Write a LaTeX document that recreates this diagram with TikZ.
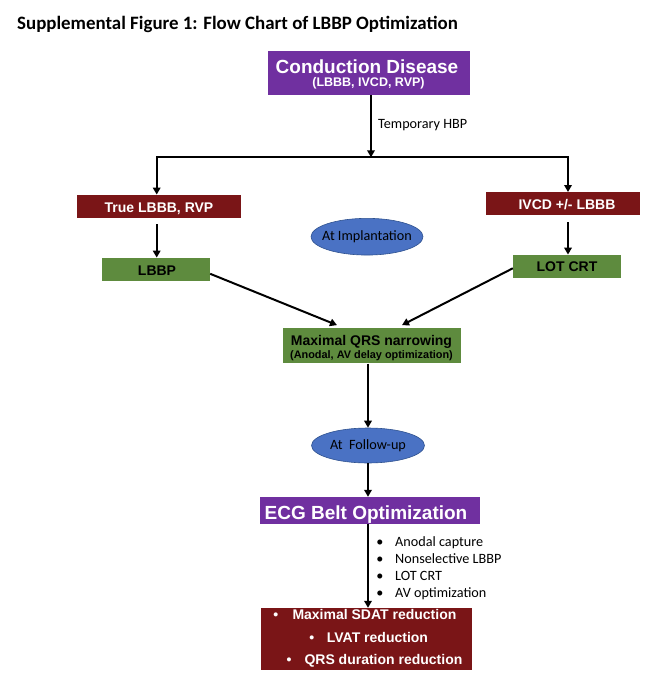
\documentclass[tikz,border=0pt]{standalone}
\usepackage{fontspec}
\setmainfont{Carlito}
\newfontfamily\arial{Liberation Sans}
\usetikzlibrary{shapes.geometric,arrows.meta}
\definecolor{cpurple}{HTML}{7030A0}
\definecolor{cred}{HTML}{7A1517}
\definecolor{cgreen}{HTML}{5E8B3E}
\definecolor{cblue}{HTML}{4A72C4}
\definecolor{cblueb}{HTML}{2F528F}
\begin{document}
\begin{tikzpicture}[x=1pt,y=-1pt,
  box/.style={rectangle, inner sep=0pt, draw=none},
  pbox/.style={box, fill=cpurple},
  rbox/.style={box, fill=cred},
  gbox/.style={box, fill=cgreen},
  oval/.style={ellipse, inner sep=0pt, fill=cblue, draw=cblueb, line width=0.6pt},
  txt/.style={inner sep=0pt, anchor=base},
  wtxt/.style={txt, text=white, font=\arial\bfseries\fontsize{14}{16}\selectfont},
  btxt/.style={txt, text=black, font=\arial\bfseries\fontsize{14}{16}\selectfont},
  ctxt/.style={txt, text=black, font=\fontsize{14.2}{16}\selectfont},
  arr/.style={line width=2pt, -{Triangle[length=7pt,width=7.5pt]}},
]
\useasboundingbox (0,0) rectangle (657,680);
\node[txt, anchor=base west, font=\bfseries\fontsize{18.9}{20}\selectfont] (title) at (17,29.5) {Supplemental Figure 1: Flow Chart of LBBP Optimization};

% top box
\node[pbox, minimum width=202pt, minimum height=44pt] (cd) at (369,73) {};
\node[wtxt, font=\arial\bfseries\fontsize{19}{20}\selectfont] (cdt) at (367,73.8) {Conduction Disease};
\node[wtxt, font=\arial\bfseries\fontsize{12.5}{14}\selectfont] (cds) at (368.5,86.5) {(LBBB, IVCD, RVP)};

\coordinate (sp) at (371,157.3);
\coordinate (hl) at (156.7,157.3);
\coordinate (hr) at (568,157.3);
\draw[arr] (cd.south -| sp) -- (sp);
\node[ctxt, anchor=base west] (thbp) at (378,128.5) {Temporary HBP};

% second row
\node[rbox, minimum width=164pt, minimum height=23pt] (tl) at (159,206.3) {};
\node[wtxt] (tlt) at (159,212.3) {True LBBB, RVP};
\node[rbox, minimum width=154pt, minimum height=23pt] (ir) at (563,203.7) {};
\node[wtxt] (irt) at (567,209.3) {IVCD +/- LBBB};

\draw[arr] (sp) -| (tl.north -| hl);
\draw[arr] (sp) -| (ir.north -| hr);

% third row
\node[gbox, minimum width=108pt, minimum height=23pt] (lb) at (156,269.3) {};
\node[btxt] (lbt) at (157,275) {LBBP};
\node[gbox, minimum width=108pt, minimum height=23pt] (lot) at (567,266.3) {};
\node[btxt] (lott) at (567,271.6) {LOT CRT};

\draw[arr, shorten <=6pt] (tl.south -| hl) -- (lb.north -| hl);
\draw[arr, shorten <=7pt] (ir.south -| hr) -- (lot.north -| hr);

\node[oval, minimum width=112pt, minimum height=36.7pt] (imp) at (367,236.7) {};
\node[ctxt] (impt) at (367,240.5) {At Implantation};

% max QRS
\node[gbox, minimum width=178pt, minimum height=35pt] (mq) at (371.7,345.8) {};
\node[btxt] (mqt) at (371.5,345.1) {Maximal QRS narrowing};
\node[btxt, font=\arial\bfseries\fontsize{10.9}{12}\selectfont] (mqs) at (371.5,358.2) {(Anodal, AV delay optimization)};

\draw[arr] ([yshift=-4.5pt]lb.east) -- ([xshift=-34.7pt,yshift=3pt]mq.north);
\draw[arr] ([yshift=-2pt]lot.west) -- ([xshift=30.3pt,yshift=3pt]mq.north);

% follow-up
\node[oval, minimum width=113pt, minimum height=35pt] (fu) at (368,445.5) {};
\node[ctxt] (fut) at (368,449.5) {At\ \ Follow-up};
\draw[arr] (fu.north |- mq.south) -- (fu.north);

% ECG belt
\node[pbox, minimum width=220pt, minimum height=27pt] (ecg) at (370,510.5) {};
\node[wtxt, font=\arial\bfseries\fontsize{19}{20}\selectfont] (ecgt) at (366,519.5) {ECG Belt Optimization};
\draw[arr] (fu.south) -- (fu.south |- ecg.north);

% results
\node[rbox, minimum width=211pt, minimum height=62pt] (res) at (366.5,639) {};
\coordinate (ax) at (368,0);
\draw[arr] (ecg.south -| ax) -- (res.north -| ax);

\node[ctxt] (b1) at (380,546.5) {•};
\node[ctxt, anchor=base west] (t1) at (395,546.5) {Anodal capture};
\node[ctxt] (b2) at (380,563.5) {•};
\node[ctxt, anchor=base west] (t2) at (395,563.5) {Nonselective LBBP};
\node[ctxt] (b3) at (380,580.5) {•};
\node[ctxt, anchor=base west] (t3) at (395,580.5) {LOT CRT};
\node[ctxt] (b4) at (380,597) {•};
\node[ctxt, anchor=base west] (t4) at (395,597) {AV optimization};

\node[wtxt] (r1b) at (275.7,619.5) {•};
\node[wtxt, anchor=base west] (r1) at (292.3,619.5) {Maximal SDAT reduction};
\node[wtxt] (r2b) at (311.7,642.5) {•};
\node[wtxt, anchor=base west] (r2) at (326.7,642.5) {LVAT reduction};
\node[wtxt] (r3b) at (289,664) {•};
\node[wtxt, anchor=base west] (r3) at (304.3,664) {QRS duration reduction};
\end{tikzpicture}
\end{document}
